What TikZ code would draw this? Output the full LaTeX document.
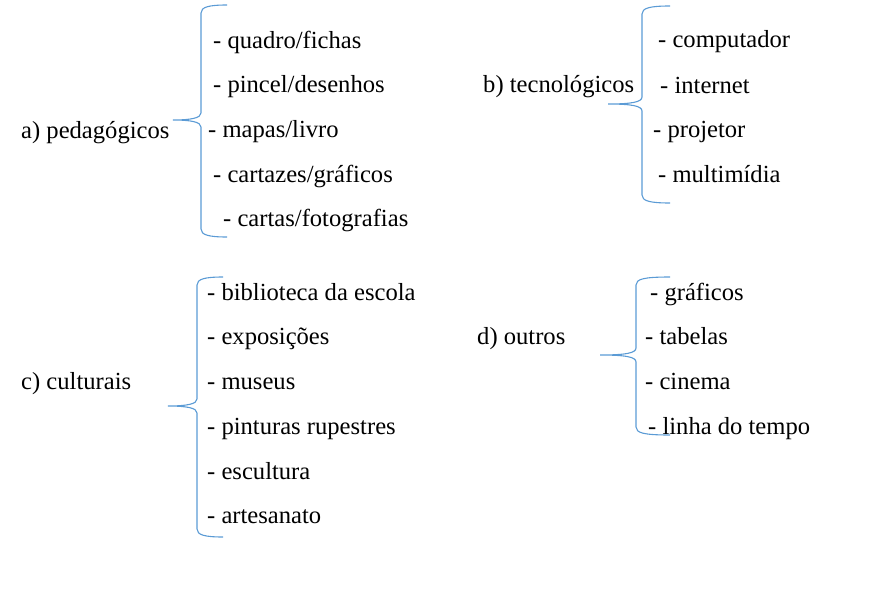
\documentclass[tikz,border=0pt]{standalone}
\usepackage{fontspec}
\setmainfont{Liberation Serif}
\definecolor{bracecol}{HTML}{5B9BD5}
\newcommand\mybrace[6]{% xend xvert xtip ytop ytip ybot
  \draw[bracecurve] (#1,#4) .. controls ({#2+8},#4) and (#2,{#4+2}) .. (#2,{#4+8})
    -- (#2,{#5-7}) .. controls (#2,{#5-2}) and ({#2-10},#5) .. (#3,#5)
    .. controls ({#2-10},#5) and (#2,{#5+2}) .. (#2,{#5+7})
    -- (#2,{#6-8}) .. controls (#2,{#6-2}) and ({#2+8},#6) .. (#1,#6);}
\begin{document}
\begin{tikzpicture}[x=1pt,y=-1pt,
  bracecurve/.style={draw=bracecol,line width=1.1pt},
  txt/.style={anchor=base west,inner sep=0pt,font=\fontsize{24.6}{30}\selectfont}]
\useasboundingbox (0,0) rectangle (885,589);
% braces
\mybrace{227}{201}{173}{5}{120}{237}
\mybrace{670}{642}{608}{6}{104}{203}
\mybrace{223}{197}{168}{277}{406}{537}
\mybrace{670}{636}{600}{277}{355}{435}
% a
\node[txt] (a) at (21,138) {a) pedagógicos};
\node[txt] (a1) at (213,48) {- quadro/fichas};
\node[txt] (a2) at (213,92) {- pincel/desenhos};
\node[txt] (a3) at (208,137) {- mapas/livro};
\node[txt] (a4) at (213,182) {- cartazes/gráficos};
\node[txt] (a5) at (223,226.5) {- cartas/fotografias};
% b
\node[txt] (b) at (483,92) {b) tecnológicos};
\node[txt] (b1) at (658,47) {- computador};
\node[txt] (b2) at (660,93) {- internet};
\node[txt] (b3) at (653,137) {- projetor};
\node[txt] (b4) at (658,182) {- multimídia};
% c
\node[txt] (c) at (21,389) {c) culturais};
\node[txt] (c1) at (207,300) {- biblioteca da escola};
\node[txt] (c2) at (207,344) {- exposições};
\node[txt] (c3) at (207,389) {- museus};
\node[txt] (c4) at (207,434) {- pinturas rupestres};
\node[txt] (c5) at (207,479) {- escultura};
\node[txt] (c6) at (207,523) {- artesanato};
% d
\node[txt] (d) at (477,344) {d) outros};
\node[txt] (d1) at (650,300) {- gráficos};
\node[txt] (d2) at (645,344) {- tabelas};
\node[txt] (d3) at (645,389) {- cinema};
\node[txt] (d4) at (648,434) {- linha do tempo};
\end{tikzpicture}
\end{document}
